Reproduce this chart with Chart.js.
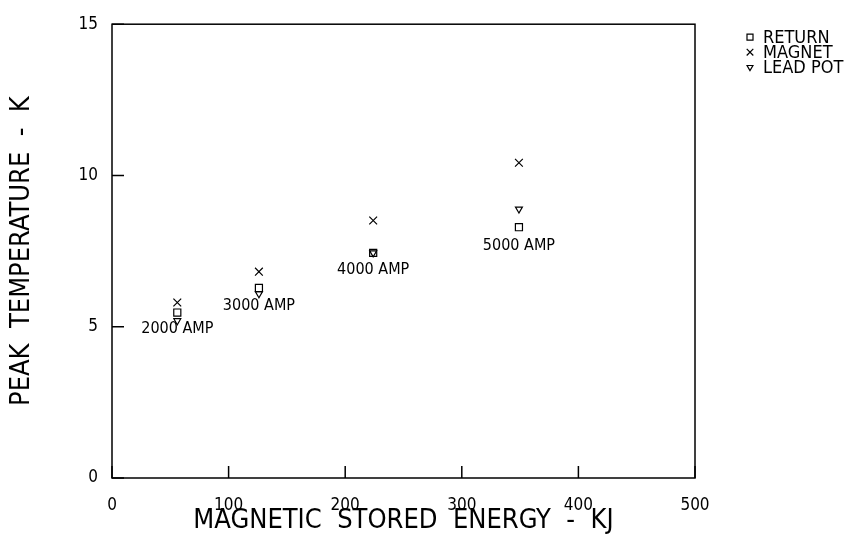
<!DOCTYPE html>
<html>
<head>
<meta charset="utf-8">
<script src="https://cdn.jsdelivr.net/npm/chart.js@4.4.1/dist/chart.umd.min.js"></script>
<style>
  body { margin: 0; background: #fff; }
</style>
</head>
<body>
<canvas id="peakTempChart" width="857" height="545"></canvas>
<script>
// values
const energyKJ = [56, 126, 224, 349];
const returnTemp = [5.47, 6.28, 7.44, 8.29];
const magnetTemp = [5.80, 6.82, 8.51, 10.42];
const leadPotTemp = [5.20, 6.09, 7.44, 8.89];

// "xxxx AMP" notes, centred on each point group
const currentLabels = ['2000 AMP', '3000 AMP', '4000 AMP', '5000 AMP'];
const currentLabelTemp = [4.94, 5.69, 6.87, 7.68];

const xTicks = [0, 100, 200, 300, 400, 500];
const yTicks = [0, 5, 10, 15];

const plotFont = "'Liberation Sans Narrow', 'DejaVu Sans Condensed', 'Liberation Sans', sans-serif";
Chart.defaults.font.family = plotFont;
Chart.defaults.color = '#000';

const toPoints = ys => energyKJ.map((x, i) => ({ x: x, y: ys[i] }));

// box around the plot plus inward tick marks
const frame = {
  id: 'frame',
  afterDraw(chart) {
    const { ctx, chartArea: a, scales } = chart;
    ctx.save();
    ctx.strokeStyle = '#000';
    ctx.lineWidth = 1.5;
    ctx.strokeRect(a.left, a.top, a.right - a.left, a.bottom - a.top);
    ctx.beginPath();
    scales.x.ticks.forEach(t => {
      const px = scales.x.getPixelForValue(t.value);
      ctx.moveTo(px, a.bottom);
      ctx.lineTo(px, a.bottom - 12);
    });
    scales.y.ticks.forEach(t => {
      const py = scales.y.getPixelForValue(t.value);
      ctx.moveTo(a.left, py);
      ctx.lineTo(a.left + 12, py);
    });
    ctx.stroke();

    // current labels
    ctx.font = '16px ' + plotFont;
    ctx.fillStyle = '#000';
    ctx.textAlign = 'center';
    ctx.textBaseline = 'middle';
    currentLabels.forEach((txt, i) => {
      ctx.fillText(txt, scales.x.getPixelForValue(energyKJ[i]), scales.y.getPixelForValue(currentLabelTemp[i]));
    });

    // legend to the right of the plot
    const lx = a.right + 55;
    ctx.textAlign = 'left';
    ctx.font = '18px ' + plotFont;
    chart.data.datasets.forEach((ds, i) => {
      const ly = a.top + 13 + i * 15;
      ctx.strokeStyle = '#000';
      ctx.fillStyle = 'rgba(0,0,0,0)';
      ctx.lineWidth = 1.2;
      Chart.helpers.drawPoint(ctx, {
        pointStyle: ds.pointStyle,
        rotation: ds.pointRotation || 0,
        radius: ds.pointRadius * 0.85,
        borderWidth: 1.2
      }, lx, ly);
      ctx.fillStyle = '#000';
      ctx.fillText(ds.label, lx + 13, ly + 1);
    });
    ctx.restore();
  }
};

new Chart(document.getElementById('peakTempChart'), {
  type: 'scatter',
  data: {
    datasets: [
      {
        label: 'RETURN',
        data: toPoints(returnTemp),
        pointStyle: 'rect',
        pointRadius: 5,
        borderColor: '#000',
        backgroundColor: 'rgba(0,0,0,0)',
        borderWidth: 1.2
      },
      {
        label: 'MAGNET',
        data: toPoints(magnetTemp),
        pointStyle: 'crossRot',
        pointRadius: 5.5,
        borderColor: '#000',
        backgroundColor: 'rgba(0,0,0,0)',
        borderWidth: 1.2
      },
      {
        label: 'LEAD POT',
        data: toPoints(leadPotTemp),
        pointStyle: 'triangle',
        pointRotation: 180,
        pointRadius: 4,
        borderColor: '#000',
        backgroundColor: 'rgba(0,0,0,0)',
        borderWidth: 1.2
      }
    ]
  },
  options: {
    responsive: false,
    animation: false,
    layout: {
      padding: { top: 13, right: 162, bottom: 0, left: 0 }
    },
    plugins: {
      legend: { display: false },
      tooltip: { enabled: false }
    },
    scales: {
      x: {
        type: 'linear',
        min: 0,
        max: 500,
        afterBuildTicks: s => { s.ticks = xTicks.map(v => ({ value: v })); },
        afterFit: s => { s.height = 67; },
        grid: { display: false, drawTicks: false },
        border: { display: false },
        ticks: { padding: 17, font: { size: 17 }, maxRotation: 0 },
        title: {
          display: true,
          text: 'MAGNETIC  STORED  ENERGY  -  KJ',
          font: { size: 27 },
          padding: { top: 0, bottom: 8 }
        }
      },
      y: {
        type: 'linear',
        min: 0,
        max: 15,
        afterBuildTicks: s => { s.ticks = yTicks.map(v => ({ value: v })); },
        afterFit: s => { s.width = 112; },
        grid: { display: false, drawTicks: false },
        border: { display: false },
        ticks: { padding: 14, font: { size: 17 } },
        title: {
          display: true,
          text: 'PEAK  TEMPERATURE  -  K',
          font: { size: 27 },
          padding: { top: 6, bottom: 5 }
        }
      }
    }
  },
  plugins: [frame]
});
</script>
</body>
</html>
